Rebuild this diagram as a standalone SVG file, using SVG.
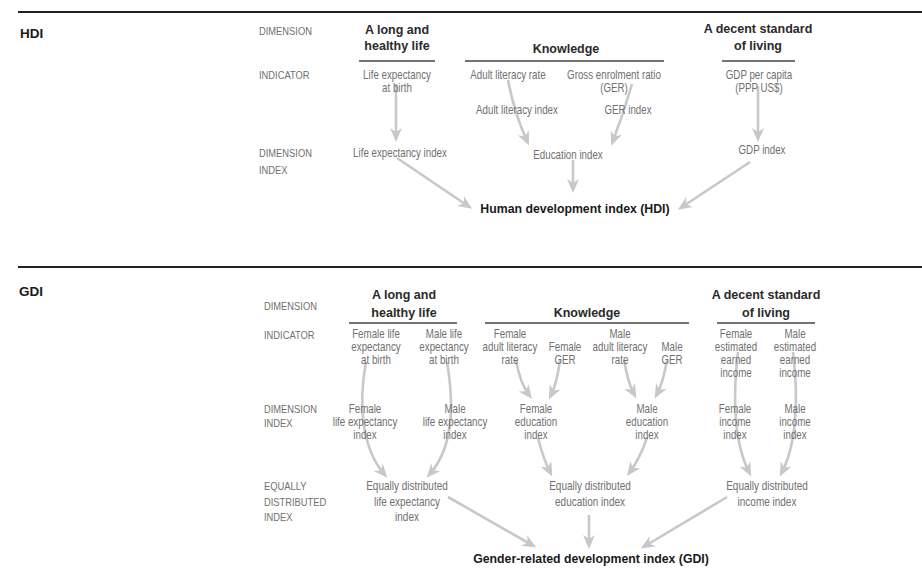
<svg xmlns="http://www.w3.org/2000/svg" width="922" height="569" viewBox="0 0 922 569">
<style>
.rule{stroke:#222;stroke-width:2.2;fill:none}
.ul{stroke:#444;stroke-width:1.5;fill:none}
.sec{font-family:"Liberation Sans",Arial,sans-serif;font-weight:bold;font-size:13.5px;fill:#1a1a1a}
.hd{font-family:"Liberation Sans",Arial,sans-serif;font-weight:bold;font-size:12.5px;fill:#2a2a2a;text-anchor:middle}
.res{font-family:"Liberation Sans",Arial,sans-serif;font-weight:bold;font-size:12.3px;fill:#1a1a1a;text-anchor:middle}
.row{font-family:"Liberation Sans",Arial,sans-serif;font-size:11.4px;fill:#707070}
.lb{font-family:"Liberation Sans",Arial,sans-serif;font-size:11.9px;fill:#707070;text-anchor:middle}
.eq{font-size:12.2px}
.ar{stroke:#c8c8c8;stroke-width:2.6;fill:none;marker-end:url(#ah)}
</style>
<defs>
<marker id="ah" markerUnits="userSpaceOnUse" markerWidth="14" markerHeight="14" viewBox="0 0 14 14" refX="9" refY="7" orient="auto">
<path d="M0,1 L14,7 L0,13 L4,7 z" fill="#c8c8c8"/>
</marker>
</defs>

<g id="connectors">
<path class="ar" d="M396,84 L396,137"/>
<path class="ar" d="M508,80 Q514,112 527,141"/>
<path class="ar" d="M632,84 Q624,112 613,141"/>
<path class="ar" d="M758,86 L758,137"/>
<path class="ar" d="M397,158 L468,206"/>
<path class="ar" d="M573,160 L573,188"/>
<path class="ar" d="M750,162 L682,207"/>

<path class="ar" d="M366,362 C358,405 362,448 384,474"/>
<path class="ar" d="M447,362 C455,410 452,448 430,474"/>
<path class="ar" d="M516,360 Q520,383 529,395"/>
<path class="ar" d="M560,360 Q557,383 551,395"/>
<path class="ar" d="M624,360 Q628,383 634,394"/>
<path class="ar" d="M667,360 Q663,383 657,394"/>
<path class="ar" d="M538,438 Q543,458 550,472"/>
<path class="ar" d="M647,438 Q640,458 630,472"/>
<path class="ar" d="M738,352 C732,400 735,445 749,472"/>
<path class="ar" d="M793,352 C799,400 796,445 782,472"/>
<path class="ar" d="M448,497 L532,545"/>
<path class="ar" d="M589,515 L589,544"/>
<path class="ar" d="M727,497 L645,546"/>
</g>

<g id="hdi-frame">
<line class="rule" x1="18" y1="12" x2="922" y2="12"/>
<text class="sec" x="20" y="38">HDI</text>
<g transform="translate(259 0) scale(0.82 1)">
<text class="row" x="0" y="35">DIMENSION</text>
<text class="row" x="0" y="79">INDICATOR</text>
<text class="row" x="0" y="157">DIMENSION</text>
<text class="row" x="0" y="174">INDEX</text>
</g>
</g>

<g id="hdi-dim-health">
<text class="hd" x="397" y="34">A long and</text>
<text class="hd" x="397" y="50">healthy life</text>
<line class="ul" x1="359" y1="61" x2="435" y2="61"/>
</g>
<g id="hdi-dim-knowledge">
<text class="hd" x="566" y="53">Knowledge</text>
<line class="ul" x1="465" y1="61" x2="664" y2="61"/>
</g>
<g id="hdi-dim-living">
<text class="hd" x="758" y="33">A decent standard</text>
<text class="hd" x="758" y="50">of living</text>
<line class="ul" x1="722" y1="61" x2="795" y2="61"/>
</g>

<g id="hdi-life-exp" transform="translate(397 0) scale(0.82 1)"><text class="lb" x="0" y="79">Life expectancy</text><text class="lb" x="0" y="92">at birth</text></g>
<g id="hdi-adult-lit-rate" transform="translate(508 0) scale(0.82 1)"><text class="lb" x="0" y="79">Adult literacy rate</text></g>
<g id="hdi-ger" transform="translate(614 0) scale(0.82 1)"><text class="lb" x="0" y="79">Gross enrolment ratio</text><text class="lb" x="0" y="92">(GER)</text></g>
<g id="hdi-gdp" transform="translate(759 0) scale(0.82 1)"><text class="lb" x="0" y="79">GDP per capita</text><text class="lb" x="0" y="92">(PPP US$)</text></g>
<g id="hdi-adult-lit-index" transform="translate(517 0) scale(0.82 1)"><text class="lb" x="0" y="114">Adult literacy index</text></g>
<g id="hdi-ger-index" transform="translate(628 0) scale(0.82 1)"><text class="lb" x="0" y="114">GER index</text></g>
<g id="hdi-life-index" transform="translate(400 0) scale(0.82 1)"><text class="lb" x="0" y="157">Life expectancy index</text></g>
<g id="hdi-edu-index" transform="translate(568 0) scale(0.82 1)"><text class="lb" x="0" y="159">Education index</text></g>
<g id="hdi-gdp-index" transform="translate(762 0) scale(0.82 1)"><text class="lb" x="0" y="154">GDP index</text></g>
<g id="hdi-result"><text class="res" x="575" y="213">Human development index (HDI)</text></g>

<g id="gdi-frame">
<line class="rule" x1="18" y1="267" x2="922" y2="267"/>
<text class="sec" x="19" y="296">GDI</text>
<g transform="translate(264 0) scale(0.82 1)">
<text class="row" x="0" y="310">DIMENSION</text>
<text class="row" x="0" y="339">INDICATOR</text>
<text class="row" x="0" y="413">DIMENSION</text>
<text class="row" x="0" y="427">INDEX</text>
<text class="row" x="0" y="490">EQUALLY</text>
<text class="row" x="0" y="506">DISTRIBUTED</text>
<text class="row" x="0" y="521">INDEX</text>
</g>
</g>

<g id="gdi-dim-health">
<text class="hd" x="404" y="299">A long and</text>
<text class="hd" x="404" y="317">healthy life</text>
<line class="ul" x1="349" y1="323" x2="457" y2="323"/>
</g>
<g id="gdi-dim-knowledge">
<text class="hd" x="587" y="317">Knowledge</text>
<line class="ul" x1="485" y1="323" x2="689" y2="323"/>
</g>
<g id="gdi-dim-living">
<text class="hd" x="766" y="299">A decent standard</text>
<text class="hd" x="766" y="317">of living</text>
<line class="ul" x1="717" y1="323" x2="815" y2="323"/>
</g>

<g id="gdi-f-life" transform="translate(376 0) scale(0.82 1)"><text class="lb" x="0" y="338">Female life</text><text class="lb" x="0" y="351">expectancy</text><text class="lb" x="0" y="364">at birth</text></g>
<g id="gdi-m-life" transform="translate(444 0) scale(0.82 1)"><text class="lb" x="0" y="338">Male life</text><text class="lb" x="0" y="351">expectancy</text><text class="lb" x="0" y="364">at birth</text></g>
<g id="gdi-f-lit" transform="translate(510 0) scale(0.82 1)"><text class="lb" x="0" y="338">Female</text><text class="lb" x="0" y="351">adult literacy</text><text class="lb" x="0" y="364">rate</text></g>
<g id="gdi-f-ger" transform="translate(565 0) scale(0.82 1)"><text class="lb" x="0" y="351">Female</text><text class="lb" x="0" y="364">GER</text></g>
<g id="gdi-m-lit" transform="translate(620 0) scale(0.82 1)"><text class="lb" x="0" y="338">Male</text><text class="lb" x="0" y="351">adult literacy</text><text class="lb" x="0" y="364">rate</text></g>
<g id="gdi-m-ger" transform="translate(672 0) scale(0.82 1)"><text class="lb" x="0" y="351">Male</text><text class="lb" x="0" y="364">GER</text></g>
<g id="gdi-f-inc" transform="translate(736 0) scale(0.82 1)"><text class="lb" x="0" y="338">Female</text><text class="lb" x="0" y="351">estimated</text><text class="lb" x="0" y="364">earned</text><text class="lb" x="0" y="377">income</text></g>
<g id="gdi-m-inc" transform="translate(795 0) scale(0.82 1)"><text class="lb" x="0" y="338">Male</text><text class="lb" x="0" y="351">estimated</text><text class="lb" x="0" y="364">earned</text><text class="lb" x="0" y="377">income</text></g>

<g id="gdi-f-life-index" transform="translate(365 0) scale(0.82 1)"><text class="lb" x="0" y="413">Female</text><text class="lb" x="0" y="426">life expectancy</text><text class="lb" x="0" y="439">index</text></g>
<g id="gdi-m-life-index" transform="translate(455 0) scale(0.82 1)"><text class="lb" x="0" y="413">Male</text><text class="lb" x="0" y="426">life expectancy</text><text class="lb" x="0" y="439">index</text></g>
<g id="gdi-f-edu-index" transform="translate(536 0) scale(0.82 1)"><text class="lb" x="0" y="413">Female</text><text class="lb" x="0" y="426">education</text><text class="lb" x="0" y="439">index</text></g>
<g id="gdi-m-edu-index" transform="translate(647 0) scale(0.82 1)"><text class="lb" x="0" y="413">Male</text><text class="lb" x="0" y="426">education</text><text class="lb" x="0" y="439">index</text></g>
<g id="gdi-f-inc-index" transform="translate(735 0) scale(0.82 1)"><text class="lb" x="0" y="413">Female</text><text class="lb" x="0" y="426">income</text><text class="lb" x="0" y="439">index</text></g>
<g id="gdi-m-inc-index" transform="translate(795 0) scale(0.82 1)"><text class="lb" x="0" y="413">Male</text><text class="lb" x="0" y="426">income</text><text class="lb" x="0" y="439">index</text></g>

<g id="gdi-eq-life" transform="translate(407 0) scale(0.82 1)"><text class="lb eq" x="0" y="490">Equally distributed</text><text class="lb eq" x="0" y="506">life expectancy</text><text class="lb eq" x="0" y="521">index</text></g>
<g id="gdi-eq-edu" transform="translate(590 0) scale(0.82 1)"><text class="lb eq" x="0" y="490">Equally distributed</text><text class="lb eq" x="0" y="506">education index</text></g>
<g id="gdi-eq-inc" transform="translate(767 0) scale(0.82 1)"><text class="lb eq" x="0" y="490">Equally distributed</text><text class="lb eq" x="0" y="506">income index</text></g>
<g id="gdi-result"><text class="res" x="591" y="563">Gender-related development index (GDI)</text></g>
</svg>
